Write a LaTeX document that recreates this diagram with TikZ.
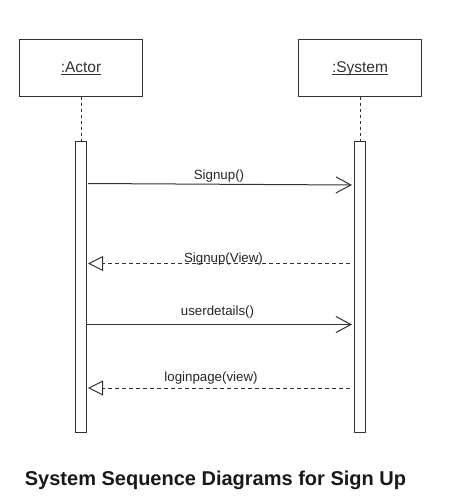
\documentclass[tikz,border=0pt]{standalone}
\usepackage{fontspec}
\setmainfont{Liberation Sans}
\usetikzlibrary{arrows.meta}
\definecolor{ink}{HTML}{333333}
\newcommand{\objname}[1]{\vphantom{A}\underline{\smash{#1}}}
\begin{document}
\begin{tikzpicture}[x=1pt,y=-1pt,
  objbox/.style={draw=ink,line width=1pt,minimum width=123pt,minimum height=56pt,inner sep=0pt,
    font=\fontsize{15.5}{18}\selectfont,text=ink},
  actbar/.style={draw=ink,line width=1pt,fill=white,minimum width=11.5pt,minimum height=291pt,inner sep=0pt},
  lifeline/.style={draw=ink,line width=1pt,dash pattern=on 3pt off 3pt},
  callmsg/.style={draw=ink,line width=1pt,-{Straight Barb[length=15pt,width=16pt,line width=1pt]}},
  retmsg/.style={draw=ink,line width=1pt,dash pattern=on 4pt off 3pt,-{Triangle[open,length=15pt,width=15pt,line width=1pt,fill=white]}},
  msglabel/.style={anchor=base,inner sep=0pt,font=\fontsize{13.3}{16}\selectfont,text=black!85}]
\useasboundingbox (0,0) rectangle (451,503);
\fill[white] (0,0) rectangle (451,503);
% objects
\node[objbox] (actor) at (81,68) {\objname{:Actor}};
\node[objbox] (system) at (360,68) {\objname{:System}};
% activation bars
\node[actbar] (abar) at (81,286.5) {};
\node[actbar] (sbar) at (360,286.5) {};
% lifelines
\draw[lifeline] (actor.south) -- (abar.north);
\draw[lifeline] (system.south) -- (sbar.north);
% message endpoints
\coordinate (m1s) at (88,183.5);
\coordinate (m1e) at (352,185);
\coordinate (m2s) at (350,263.5);
\coordinate (m2e) at (88,263.5);
\coordinate (m3s) at (87,324.5);
\coordinate (m3e) at (352,324.5);
\coordinate (m4s) at (350,388);
\coordinate (m4e) at (88,388);
% messages
\draw[callmsg] (m1s) -- (m1e);
\node[msglabel] (l1) at (219,179) {Signup()};
\draw[retmsg] (m2s) -- (m2e);
\node[msglabel] (l2) at (223.5,262) {Signup(View)};
\draw[callmsg] (m3s) -- (m3e);
\node[msglabel] (l3) at (217.5,315) {userdetails()};
\draw[retmsg] (m4s) -- (m4e);
\node[msglabel] (l4) at (211,381) {loginpage(view)};
% title
\node[anchor=base,inner sep=0pt,font=\fontsize{20}{24}\bfseries,text=black!90] (title) at (215.5,485) {System Sequence Diagrams for Sign Up};
\end{tikzpicture}
\end{document}
